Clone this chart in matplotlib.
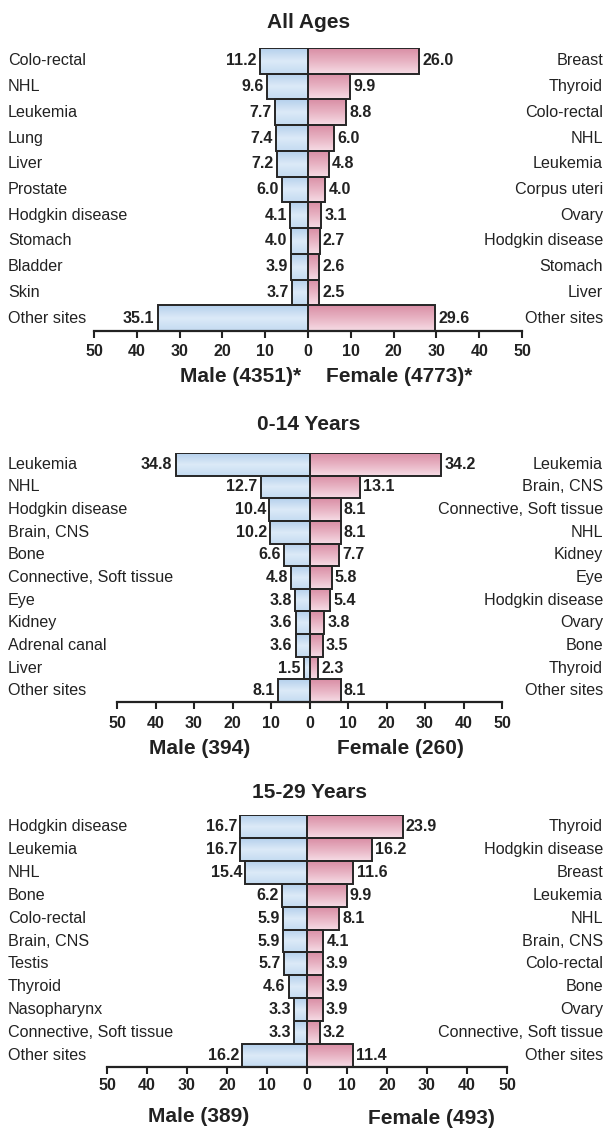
import numpy as np
import matplotlib
matplotlib.use("Agg")
import matplotlib.pyplot as plt
import matplotlib.transforms as mtransforms
from matplotlib.patches import Rectangle
from matplotlib.colors import LinearSegmentedColormap

plt.rcParams['font.family'] = ['Liberation Sans', 'DejaVu Sans']

# --- Daten ---
titles = ["All Ages", "0-14 Years", "15-29 Years"]

male_sites_all = ["Colo-rectal", "NHL", "Leukemia", "Lung", "Liver", "Prostate",
                  "Hodgkin disease", "Stomach", "Bladder", "Skin", "Other sites"]
male_vals_all = [11.2, 9.6, 7.7, 7.4, 7.2, 6.0, 4.1, 4.0, 3.9, 3.7, 35.1]
female_sites_all = ["Breast", "Thyroid", "Colo-rectal", "NHL", "Leukemia", "Corpus uteri",
                    "Ovary", "Hodgkin disease", "Stomach", "Liver", "Other sites"]
female_vals_all = [26.0, 9.9, 8.8, 6.0, 4.8, 4.0, 3.1, 2.7, 2.6, 2.5, 29.6]

male_sites_014 = ["Leukemia", "NHL", "Hodgkin disease", "Brain, CNS", "Bone",
                  "Connective, Soft tissue", "Eye", "Kidney", "Adrenal canal", "Liver", "Other sites"]
male_vals_014 = [34.8, 12.7, 10.4, 10.2, 6.6, 4.8, 3.8, 3.6, 3.6, 1.5, 8.1]
female_sites_014 = ["Leukemia", "Brain, CNS", "Connective, Soft tissue", "NHL", "Kidney", "Eye",
                    "Hodgkin disease", "Ovary", "Bone", "Thyroid", "Other sites"]
female_vals_014 = [34.2, 13.1, 8.1, 8.1, 7.7, 5.8, 5.4, 3.8, 3.5, 2.3, 8.1]

male_sites_1529 = ["Hodgkin disease", "Leukemia", "NHL", "Bone", "Colo-rectal", "Brain, CNS",
                   "Testis", "Thyroid", "Nasopharynx", "Connective, Soft tissue", "Other sites"]
male_vals_1529 = [16.7, 16.7, 15.4, 6.2, 5.9, 5.9, 5.7, 4.6, 3.3, 3.3, 16.2]
female_sites_1529 = ["Thyroid", "Hodgkin disease", "Breast", "Leukemia", "NHL", "Brain, CNS",
                     "Colo-rectal", "Bone", "Ovary", "Connective, Soft tissue", "Other sites"]
female_vals_1529 = [23.9, 16.2, 11.6, 9.9, 8.1, 4.1, 3.9, 3.9, 3.9, 3.2, 11.4]

male_labels = ["Male (4351)*", "Male (394)", "Male (389)"]
female_labels = ["Female (4773)*", "Female (260)", "Female (493)"]

ticks = [-50, -40, -30, -20, -10, 0, 10, 20, 30, 40, 50]
tick_labels = ["50", "40", "30", "20", "10", "0", "10", "20", "30", "40", "50"]

panels = [
    (male_sites_all, male_vals_all, female_sites_all, female_vals_all),
    (male_sites_014, male_vals_014, female_sites_014, female_vals_014),
    (male_sites_1529, male_vals_1529, female_sites_1529, female_vals_1529),
]

# Layout in Pixeln: links, rechts, oben, unten, titel_y, geschlecht_y (m, f), male_x, female_x, tick pad
W, H = 606, 1130
layout = [
    (94, 522, 48, 331, 23, (377, 377), 241, 399, 4),
    (117, 502, 453, 702, 425, (749, 749), 200, 400, 5),
    (107, 507, 815, 1067, 792, (1116, 1119), 199, 431, 3),
]

blue_cmap = LinearSegmentedColormap.from_list("b", ["#b5d0ec", "#dceaf8", "#c4dbf1"])
pink_cmap = LinearSegmentedColormap.from_list("p", ["#d98ea5", "#e8b3c3", "#f6dce5"])
grad = np.linspace(0, 1, 64).reshape(-1, 1)
edge = "#262626"
txt = "#222222"

fig = plt.figure(figsize=(W / 100, H / 100), dpi=100)

for (msites, mvals, fsites, fvals), (l, r, t, b, ty, gy, mx, fx, pad), title, ml, fl in zip(
        panels, layout, titles, male_labels, female_labels):
    ax = fig.add_axes([l / W, 1 - b / H, (r - l) / W, (b - t) / H])
    row_tr = mtransforms.blended_transform_factory(fig.transFigure, ax.transData)
    n = len(mvals)
    for i in range(n):
        for val, sign, cmap in ((mvals[i], -1, blue_cmap), (fvals[i], 1, pink_cmap)):
            x0 = min(0, sign * val)
            rect = Rectangle((x0, i - 0.5), val, 1.0, facecolor="none",
                             edgecolor=edge, linewidth=1.4, zorder=3)
            ax.add_patch(rect)
            img = ax.imshow(grad, cmap=cmap, aspect="auto",
                            extent=(x0, x0 + val, i + 0.5, i - 0.5), zorder=2)
            img.set_clip_path(rect)
        ax.text(-mvals[i] - 0.8, i, f"{mvals[i]:.1f}", ha="right", va="center",
                fontsize=11.5, fontweight="bold", color=txt)
        ax.text(fvals[i] + 0.8, i, f"{fvals[i]:.1f}", ha="left", va="center",
                fontsize=11.5, fontweight="bold", color=txt)
        ax.text(8 / W, i, msites[i], transform=row_tr,
                ha="left", va="center", fontsize=11.6, color=txt)
        ax.text(603 / W, i, fsites[i], transform=row_tr,
                ha="right", va="center", fontsize=11.6, color=txt)

    ax.set_xlim(-50, 50)
    ax.set_ylim(n - 0.5, -0.5)
    for s in ["top", "left", "right"]:
        ax.spines[s].set_visible(False)
    ax.spines["bottom"].set_linewidth(1.6)
    ax.spines["bottom"].set_color(txt)
    ax.set_yticks([])
    ax.set_xticks(ticks)
    ax.set_xticklabels(tick_labels, fontsize=11.5, fontweight="bold", color=txt)
    ax.tick_params(axis="x", length=5, width=1.5, color=txt, pad=pad)
    ax.patch.set_alpha(0)

    fig.text(309 / W, 1 - ty / H, title, ha="center", va="center",
             fontsize=15, fontweight="bold", color=txt)
    fig.text(mx / W, 1 - gy[0] / H, ml, ha="center", va="center",
             fontsize=15, fontweight="bold", color=txt)
    fig.text(fx / W, 1 - gy[1] / H, fl, ha="center", va="center",
             fontsize=15, fontweight="bold", color=txt)

fig.savefig("out.png", dpi=100, facecolor="white")
